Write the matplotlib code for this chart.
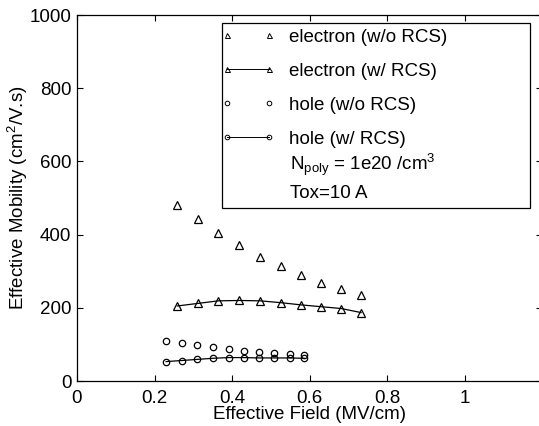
import matplotlib
matplotlib.use("Agg")
import matplotlib.pyplot as plt
from matplotlib.lines import Line2D
from matplotlib.patches import Rectangle

# ---- data ----
field_e = [0.259, 0.312, 0.365, 0.419, 0.473, 0.526, 0.578, 0.630, 0.682, 0.733]
mu_e_wo = [482, 442, 405, 371, 340, 314, 290, 269, 251, 235]
mu_e_w = [205, 212, 219, 220, 219, 214, 208, 203, 198, 187]

field_h = [0.230, 0.270, 0.310, 0.350, 0.391, 0.430, 0.469, 0.509, 0.549, 0.587]
mu_h_wo = [110, 103, 97, 94, 88, 83, 78, 76, 73, 70]
mu_h_w = [53, 56, 59, 62, 64, 64, 63, 63, 63, 62]

labels = ["electron (w/o RCS)", "electron (w/ RCS)", "hole (w/o RCS)", "hole (w/ RCS)"]
note_lines = [r"N$_{\mathregular{poly}}$ = 1e20 /cm$^{\mathregular{3}}$", "Tox=10 A"]
xticks = [0, 0.2, 0.4, 0.6, 0.8, 1]
yticks = [0, 200, 400, 600, 800, 1000]

plt.rcParams['font.family'] = ['Liberation Sans', 'DejaVu Sans']
plt.rcParams['mathtext.fontset'] = 'custom'
plt.rcParams['mathtext.rm'] = 'Liberation Sans'
plt.rcParams['mathtext.it'] = 'Liberation Sans'
fs = 13.5
fpx = fs * 100 / 72.0

fig = plt.figure(figsize=(5.39, 4.26), dpi=100)
W, H = 539, 426
x0, y0 = 77, 381
axw = 1.2 * 387.5
axh = 366
ax = fig.add_axes([x0 / W, (H - y0) / H, axw / W, axh / H])

def ax_xy(px, py):
    return ((px - x0) / axw, (y0 - py) / axh)

ax.plot(field_e, mu_e_wo, linestyle='none', marker='^', ms=5.2, mfc='none', mec='black', mew=0.9)
ax.plot(field_e, mu_e_w, linestyle='-', color='black', lw=0.9, marker='^', ms=5.2, mfc='none', mec='black', mew=0.9)
ax.plot(field_h, mu_h_wo, linestyle='none', marker='o', ms=4.6, mfc='none', mec='black', mew=0.9)
ax.plot(field_h, mu_h_w, linestyle='-', color='black', lw=0.9, marker='o', ms=4.6, mfc='none', mec='black', mew=0.9)

ax.set_xlim(0, 1.2)
ax.set_ylim(0, 1000)
ax.set_xticks(xticks)
ax.set_xticklabels([f"{t:g}" for t in xticks])
ax.set_yticks(yticks)
ax.tick_params(direction='in', top=True, right=True, labelsize=fs, length=4, width=0.8)
ax.tick_params(axis='x', pad=6.5)
ax.tick_params(axis='y', pad=4)
for s in ax.spines.values():
    s.set_linewidth(0.9)

ax.set_xlabel("Effective Field (MV/cm)", fontsize=fs, labelpad=-1)
ax.set_ylabel(r"Effective Mobility (cm$^{\mathregular{2}}$/V.s)", fontsize=fs, labelpad=0)

handles = [
    Line2D([], [], linestyle='none', marker='^', ms=3.6, mfc='none', mec='black', mew=0.7),
    Line2D([], [], linestyle='-', color='black', lw=0.7, marker='^', ms=3.6, mfc='none', mec='black', mew=0.7),
    Line2D([], [], linestyle='none', marker='o', ms=3.3, mfc='none', mec='black', mew=0.7),
    Line2D([], [], linestyle='-', color='black', lw=0.7, marker='o', ms=3.3, mfc='none', mec='black', mew=0.7),
]
bp = 0.4
anchor = ax_xy(221.3 - bp * fpx, 21.0)
leg = ax.legend(handles, labels, loc='upper left', bbox_to_anchor=anchor, borderaxespad=0,
                fontsize=fs, numpoints=2, handlelength=2.87, handletextpad=0.75,
                borderpad=bp, labelspacing=0.9, frameon=False)

# legend frame
fx0, fy0 = ax_xy(222, 207.7)
fx1, fy1 = ax_xy(530, 23)
ax.add_patch(Rectangle((fx0, fy0), fx1 - fx0, fy1 - fy0, transform=ax.transAxes,
                       fill=True, facecolor='white', edgecolor='black', lw=0.9, zorder=4))
leg.set_zorder(5)

tx, ty = ax_xy(290, 170.5)
ax.text(tx, ty, note_lines[0], transform=ax.transAxes, fontsize=fs, va='baseline', ha='left', zorder=6)
tx, ty = ax_xy(290, 198.5)
ax.text(tx, ty, note_lines[1], transform=ax.transAxes, fontsize=fs, va='baseline', ha='left', zorder=6)

fig.savefig("out.png", dpi=100)
